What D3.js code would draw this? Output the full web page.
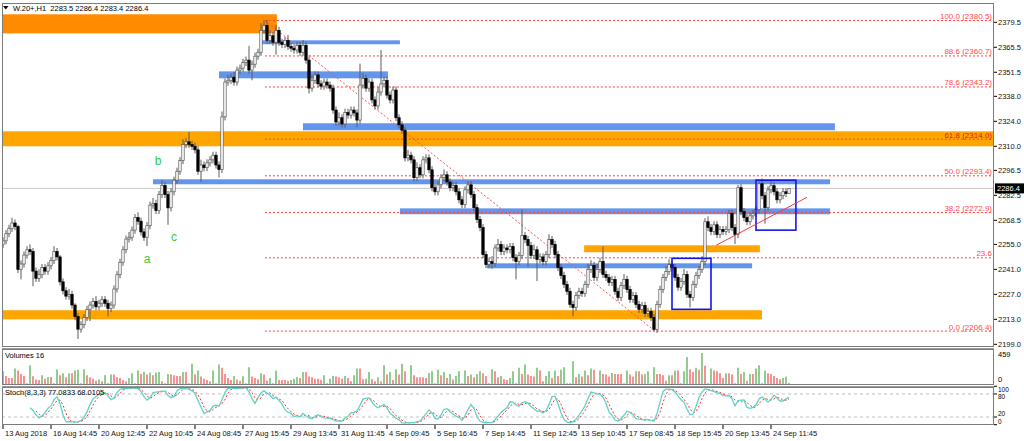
<!DOCTYPE html>
<html><head><meta charset="utf-8">
<script src="https://cdn.jsdelivr.net/npm/d3@7"></script>
<style>body{margin:0;background:#fff;overflow:hidden}svg{display:block}text{font-family:"Liberation Sans",Arial,sans-serif}</style>
</head><body><svg id="c" width="1024" height="441"></svg>
<script>
// ---------- DATA ----------
const firstOpen = 2255;
const closes = [
2257,2261,2264,2267,2265,2241,2244,2249,2252,2251,
2240,2236,2238,2242,2240,2243,2246,2251,2248,2234,
2229,2226,2227,2221,2214.5,2207.5,2210,2214,2218.6,2221,
2223,2220,2222,2224,2222,2219,2221,2230,2238,2245,
2252,2258,2259,2263,2270,2268,2262,2259,2265.5,2277,
2278,2274,2283,2288,2283,2275.5,2284.5,2291,2296,2302,
2311,2312.5,2311,2310,2308,2296,2299.5,2298,2300.7,2302.4,
2305,2299.5,2297,2326.5,2346,2347,2348.7,2346,2352.7,2353.8,
2357,2358.3,2352.7,2356,2360.5,2362.7,2375,2377.8,2369.4,2372,
2368.3,2375,2368.3,2367,2369.4,2366,2365,2364,2366.6,2362.7,
2366.6,2358.3,2342.6,2347,2350,2345,2343.7,2346,2344.3,2342.6,
2330.3,2323.6,2326,2322.5,2329,2327.5,2330.3,2328.7,2324.7,2344.3,
2348,2342.6,2346,2336,2332.6,2340.4,2345,2347,2338.7,2336,
2341.5,2326,2322,2319,2303.5,2305,2302.4,2292.4,2298,2294,
2302.4,2303.5,2296.8,2286.8,2284.5,2288.4,2292.4,2294,2290,2286.8,
2288,2284.5,2280,2277.3,2285.6,2288.4,2283,2275.6,2269,2264.4,
2249.3,2243.7,2245.4,2244.3,2253,2255,2251,2253,2252,2253.8,
2247.6,2245.4,2248.8,2260,2257.7,2254.4,2248.8,2252,2246.5,2248,
2245.4,2249.3,2257.7,2255,2249.3,2242,2237.6,2232.6,2228.7,2221.4,
2219.7,2226.4,2228.7,2227.6,2232.6,2241,2243.2,2236.5,2241,2245.4,
2238.2,2236.5,2233.7,2235.4,2228.7,2225.3,2232,2235.4,2229.8,2224.2,
2226.4,2221.4,2218.6,2220.8,2216.3,2217.5,2214,2207.4,2221.4,2229.8,
2236.5,2239.8,2243.7,2242,2236.5,2231,2234.3,2238.2,2227,2225.3,
2232.6,2237.6,2241,2245.4,2267.7,2264.4,2262.2,2266,2260.5,2263.3,
2262.2,2263.3,2272.3,2264.4,2260.5,2286.8,2273.4,2270,2267.7,2271,
2272.3,2274.5,2289,2282.3,2275.6,2285.6,2287.9,2284.5,2280,2282.3,
2284.5,2283.5,2286.4];
const upWick = [
2,2,2,3,2,1,2,2,2,3, 2,2,3,2,2,2,2,3,2,1, 2,2,3,2,1,2,2,2,2,2, 2,3,2,2,2,2,2,2,2,2,
2,2,3,2,2,3,2,2,2,2, 3,2,2,3,2,2,2,2,2,2, 3,2,5.5,2,2,2,3,2,2,2, 2,2,2,3,2,3,2,3,2,2,
2,2,8,2,2,2,4,2.7,3,3, 2,3,2,2,2,3,2,2,2,2, 3,2,2,3,2,2,2,2,2,2, 2,2,3,2,2,2,2,2,2,12,
3,2,2,2,2,3,19,2,2,2, 2,2,2,2,2,3,2,2,3,2, 2,2,2,2,2,2,2,3,2,2, 2,2,2,2,2,2,2,2,2,2,
2,2,2,3,2,3,2,2,2,2, 2,2,2,14.5,2,2,2,3,2,2, 2,2,3,2,2,2,2,2,2,2, 2,2,2,2,2,3,3,2,3,2,
8.4,2,2,2,2,2,2,3,2,2, 2,2,2,2,2,2,2,2,2,2, 2,3,3,2,2,2,2,3,2,2, 2,2,2,3,2,3,2,2,2,2,
2,2,2,2,2,1.6,2,2,2,2, 2,2,2,3,2,2,3,2,2,2, 2,2,0];
const downWick = [
2,2,2,2,2,2,5.6,2,2,2, 8.5,2,2,2,2,2,2,2,2,2, 2,2,2,2,2,5.5,2,2,2,6.6, 2,2,2,2,2,4.3,2,2,2,2,
2,2,2,2,2,2,2,2,5,2, 2,2,2,2,2,9.5,2,2,2,2, 2,2,2,2,2,2,6,2,2,2, 2,2,4.5,2,2,2,2,2,2,2,
2,2,2,5.7,2,2,2,2,2,2, 2,7,2,2,2,2,2,2,2,2, 2,2,3,2,2,2,2,2,2,2, 2,2,2,2,2,2,2,2,4,2,
2,2,2,2,2,2,2,2,2,2, 2,2,2,2,2,2,2,2,2,2, 2,2,2,2,2,2,2,2,2,2, 2,2,2,2,2,2,2,2,2,2,
2,2,2,3,2,2,2,2,2,2, 2,10,2,2,2,12,2,2,12,2, 2,2,2,2,2,2,2,2,2,2, 5,2,2,2,2,2,2,2,2,2,
2,2,2,2,2,2,2,2,2,2, 2,2,2,2,2,2,2,1,2,2, 2,2,2,2,2,2,2,2,2,5.6, 2,2,2,2,2,2,2,2,2,2,
2,2,2,2,5.3,2,2,2,2,2, 2,2,2,2,9,2,2,2,2,2, 2,2,0.1];
const volumes = [
186,118,88,88,225,196,147,118,12,274,113,64,59,127,78,103,103,12,216,127,
157,98,157,157,196,206,12,216,127,98,78,49,64,39,127,12,137,137,98,88,
59,39,88,157,12,196,147,176,137,167,127,167,176,39,12,147,137,127,118,118,
176,176,12,294,137,196,108,78,59,39,196,12,284,235,147,88,59,118,64,49,
113,12,245,108,88,69,157,137,49,88,12,196,59,59,59,49,59,78,98,88,
176,176,108,98,78,78,59,127,12,78,118,108,98,78,118,88,39,127,225,225,
69,78,176,69,39,98,39,274,137,176,59,
216,137,294,186,12,274,127,98,98,98,88,162,186,12,206,127,176,88,147,64,
118,186,12,196,118,137,98,147,186,157,118,12,216,186,98,118,69,59,88,186,
12,235,147,284,137,118,108,235,196,39,118,186,88,196,118,206,245,12,12,333,
98,147,108,196,127,225,206,12,196,147,137,108,162,147,147,147,12,196,137,108,
186,186,137,147,186,12,245,147,147,127,49,127,127,196,196,12,186,392,216,176,
235,206,451,265,12,225,196,186,157,88,157,157,137,12,235,147,176,49,147,147,
225,274,12,196,157,147,118,88,69,88,108,16];
const xTickBars = [0,16,32,48,64,80,96,112,128,144,160,176,192,208,224,240,256];
const xTickLabels = ["13 Aug 2018","16 Aug 14:45","20 Aug 12:45","22 Aug 10:45","24 Aug 08:45","27 Aug 15:45","29 Aug 13:45","31 Aug 11:45","4 Sep 09:45","5 Sep 16:45","7 Sep 14:45","11 Sep 12:45","13 Sep 10:45","17 Sep 08:45","18 Sep 15:45","20 Sep 13:45","24 Sep 11:45"];
const priceTicks = [2379.5,2365.5,2351.5,2338.0,2324.0,2310.0,2296.5,2282.5,2268.5,2255.0,2241.0,2227.0,2213.0,2199.0];
const fibLow = 2206.4, fibHigh = 2380.5, fibBarLow = 217.3, fibBarHigh = 87.3;
const fibLevels = [100,88.6,78.6,61.8,50,38.2,23.6,0];
const fibShowPrice = [true,true,true,true,true,true,false,true];
const orangeZones = [ // [barFrom, barTo, priceTop, priceBottom, colour]
  [-0.4,91.3,2384.0,2373.3,"#FF8C00"],
  [-0.4,340,2318.4,2310.0,"#FFA500"],
  [-0.4,253,2218.1,2213.0,"#FFA500"],
  [193.7,252.3,2254.5,2250.6,"#FFA500"]];
const blueZones = [
  [86.3,132.3,2369.4,2367.2],
  [72,128.3,2352.0,2348.1],
  [100,277.3,2322.9,2319.0],
  [50,275.7,2291.5,2288.7],
  [132.3,275.7,2275.2,2271.9],
  [161.3,249.7,2244.4,2241.6]];
const boxes = [[223,236,2247.2,2218.6],[251,264.3,2291.0,2263.0]];
const trendLine = [[237.7,2254.5],[268,2281.4]];
const waveLabels = [["a",48,2244.5],["b",51.7,2299.5],["c",57,2257.0]];
const header = "W.20+,H1  2283.5 2286.4 2283.4 2286.4";
const volLabel = "Volumes 16";
const stochLabel = "Stoch(8,3,3) 77.0833 68.0105";
const lastPrice = 2286.4;
const volAxis = [459,0];
const stochAxis = [100,80,20,0];

// ---------- BUILD ----------
const n = closes.length;
const bars = closes.map((c,i)=>{
  const o = i===0 ? firstOpen : closes[i-1];
  return {i,o,c,h:Math.max(o,c)+upWick[i],l:Math.min(o,c)-downWick[i],v:volumes[i]};
});
const svg = d3.select('#c');
const PL=2, PR=994, MT=3, MB=347, VT=349, VB=385, ST=387, SB=425;
const x = d3.scaleLinear().domain([0,262]).range([3,789]);
const y = d3.scaleLinear().domain([2199,2379.5]).range([344.3,22.3]);
const yv = d3.scaleLinear().domain([0,459]).range([384,352.5]);
const ys = d3.scaleLinear().domain([0,100]).range([424.7,386.3]);
const F = "Liberation Sans, Arial, sans-serif";

const defs = svg.append('defs');
defs.append('clipPath').attr('id','cm').append('rect').attr('x',PL).attr('y',MT).attr('width',PR-PL).attr('height',MB-MT);
defs.append('clipPath').attr('id','cs').append('rect').attr('x',PL).attr('y',ST).attr('width',PR-PL).attr('height',SB-ST);
const main = svg.append('g').attr('clip-path','url(#cm)');

main.selectAll('rect.oz').data(orangeZones).join('rect')
  .attr('x',d=>x(d[0])).attr('width',d=>x(d[1])-x(d[0]))
  .attr('y',d=>y(d[2])).attr('height',d=>y(d[3])-y(d[2])).attr('fill',d=>d[4]);
main.selectAll('rect.bz').data(blueZones).join('rect')
  .attr('x',d=>x(d[0])).attr('width',d=>x(d[1])-x(d[0]))
  .attr('y',d=>y(d[2])).attr('height',d=>y(d[3])-y(d[2])).attr('fill','#6495ED');

main.append('line').attr('x1',PL).attr('x2',PR).attr('y1',y(lastPrice)).attr('y2',y(lastPrice))
  .attr('stroke','#c8c8c8').attr('stroke-width',1);

const fibPrice = l => fibLow + l/100*(fibHigh-fibLow);
main.append('line').attr('x1',x(fibBarHigh)).attr('y1',y(fibHigh)).attr('x2',x(fibBarLow)).attr('y2',y(fibLow))
  .attr('stroke','#ff5050').attr('stroke-dasharray','2,2').attr('stroke-width',1);
main.selectAll('line.fib').data(fibLevels).join('line')
  .attr('x1',x(fibBarHigh)).attr('x2',PR).attr('y1',d=>y(fibPrice(d))).attr('y2',d=>y(fibPrice(d)))
  .attr('stroke','#ff4040').attr('stroke-dasharray','2,2').attr('stroke-width',1);
main.selectAll('text.fib').data(fibLevels).join('text')
  .attr('x',992).attr('y',d=>y(fibPrice(d))-1.5).attr('text-anchor','end')
  .attr('font-size','8px').attr('font-family',F).attr('fill',(d,i)=>d===61.8?'#e01818':'#ff4a4a')
  .text((d,i)=>fibShowPrice[i] ? d.toFixed(1)+' ('+fibPrice(d).toFixed(1)+')' : d.toFixed(1));

const cg = main.append('g');
cg.selectAll('line').data(bars).join('line')
  .attr('x1',d=>x(d.i)).attr('x2',d=>x(d.i)).attr('y1',d=>y(d.h)).attr('y2',d=>y(d.l))
  .attr('stroke','#5a5a5a').attr('stroke-width',1);
cg.selectAll('rect').data(bars).join('rect')
  .attr('x',d=>x(d.i)-1.2).attr('width',2.4)
  .attr('y',d=>y(Math.max(d.o,d.c)))
  .attr('height',d=>Math.max(0.8,Math.abs(y(d.o)-y(d.c))))
  .attr('fill',d=>d.c>=d.o?'#fff':'#000')
  .attr('stroke',d=>d.c>=d.o?'#555':'#000').attr('stroke-width',0.7);

main.selectAll('rect.box').data(boxes).join('rect')
  .attr('x',d=>x(d[0])).attr('width',d=>x(d[1])-x(d[0]))
  .attr('y',d=>y(d[2])).attr('height',d=>y(d[3])-y(d[2]))
  .attr('fill','none').attr('stroke','#1414f0').attr('stroke-width',1.6);
main.append('line').attr('x1',x(trendLine[0][0])).attr('y1',y(trendLine[0][1]))
  .attr('x2',x(trendLine[1][0])).attr('y2',y(trendLine[1][1])).attr('stroke','#ff3a3a').attr('stroke-width',1);

main.selectAll('text.w').data(waveLabels).join('text')
  .attr('x',d=>x(d[1])).attr('y',d=>y(d[2])).attr('text-anchor','middle')
  .attr('font-size','12px').attr('font-family',F).attr('fill','#33cc33').text(d=>d[0]);

svg.append('path').attr('d','M3,6 L8.5,6 L5.75,9.5 Z').attr('fill','#000');
svg.append('text').attr('x',13).attr('y',11).attr('font-size','7.5px').attr('font-family',F)
  .attr('fill','#000').style('white-space','pre').text(header);

svg.selectAll('line.vol').data(bars).join('line')
  .attr('x1',d=>x(d.i)).attr('x2',d=>x(d.i)).attr('y1',yv(0)).attr('y2',d=>yv(d.v))
  .attr('stroke',(d,i)=> i>0 && d.v>bars[i-1].v ? '#4aa84a' : '#f24848').attr('stroke-width',1.2);
svg.append('text').attr('x',5).attr('y',358).attr('font-size','7.5px').attr('font-family',F).text(volLabel);

// stochastic (8,3,3)
const K=8, slow=3;
const kv = new Array(n).fill(null), dv = new Array(n).fill(null);
const hh = [], ll = [];
for (let i=0;i<n;i++){
  const s = Math.max(0,i-K+1);
  hh[i] = d3.max(bars.slice(s,i+1),b=>b.h);
  ll[i] = d3.min(bars.slice(s,i+1),b=>b.l);
}
for (let i=K-1+slow-1;i<n;i++){
  let num=0,den=0;
  for(let j=i-slow+1;j<=i;j++){num+=closes[j]-ll[j];den+=hh[j]-ll[j];}
  kv[i] = den===0?100:100*num/den;
}
for (let i=0;i<n;i++){
  if(i>=2 && kv[i]!==null && kv[i-1]!==null && kv[i-2]!==null) dv[i]=(kv[i]+kv[i-1]+kv[i-2])/3;
}
const sg = svg.append('g').attr('clip-path','url(#cs)');
[20,80].forEach(l=>sg.append('line').attr('x1',PL).attr('x2',PR).attr('y1',ys(l)).attr('y2',ys(l))
  .attr('stroke','#c0c0c0').attr('stroke-dasharray','3,3'));
const kl = d3.line().defined(d=>d!==null).x((d,i)=>x(i)).y(d=>ys(d));
sg.append('path').attr('d',kl(dv)).attr('fill','none').attr('stroke','#ff3030').attr('stroke-width',1).attr('stroke-dasharray','2,2');
sg.append('path').attr('d',kl(kv)).attr('fill','none').attr('stroke','#5fd3c8').attr('stroke-width',1.3);
svg.append('text').attr('x',5).attr('y',395).attr('font-size','7.5px').attr('font-family',F).text(stochLabel);

[[MT,MB],[VT,VB],[ST,SB]].forEach(([t,b])=>{
  svg.append('rect').attr('x',PL+0.5).attr('y',t+0.5).attr('width',PR-PL-1).attr('height',b-t-1)
    .attr('fill','none').attr('stroke','#7c7c7c').attr('stroke-width',1);
});
svg.append('line').attr('x1',PL).attr('x2',PR).attr('y1',MB+1.5).attr('y2',MB+1.5).attr('stroke','#9a9a9a');
svg.append('line').attr('x1',PL).attr('x2',PR).attr('y1',VB+1.5).attr('y2',VB+1.5).attr('stroke','#9a9a9a');

const pa = svg.append('g');
pa.selectAll('line').data(priceTicks).join('line').attr('x1',PR).attr('x2',PR+3)
  .attr('y1',d=>y(d)).attr('y2',d=>y(d)).attr('stroke','#000');
pa.selectAll('text').data(priceTicks).join('text').attr('x',PR+4).attr('y',d=>y(d)).attr('dy','0.35em')
  .attr('font-size','7.5px').attr('font-family',F).attr('fill','#111').text(d=>d.toFixed(1));
svg.append('rect').attr('x',PR+1).attr('y',y(lastPrice)-5).attr('width',29).attr('height',10).attr('fill','#000');
svg.append('text').attr('x',PR+3).attr('y',y(lastPrice)).attr('dy','0.35em').attr('font-size','7.5px')
  .attr('font-family',F).attr('fill','#fff').text(lastPrice.toFixed(1));

// volume & stoch axis labels
const volPos = [yv(volAxis[0])+2, yv(volAxis[1])-5];
volAxis.forEach((v,k)=>{
  svg.append('text').attr('x',PR+4).attr('y',volPos[k]).attr('dy','0.35em').attr('font-size','7.5px').attr('font-family',F).text(v);
});
const stochPos = [390,397,414,421.5];
stochAxis.forEach((v,k)=>{
  svg.append('text').attr('x',PR+4).attr('y',stochPos[k]).attr('dy','0.35em').attr('font-size','6.5px').attr('font-family',F).text(v);
  svg.append('line').attr('x1',PR).attr('x2',PR+3).attr('y1',ys(v)).attr('y2',ys(v)).attr('stroke','#000');
});

const ta = svg.append('g');
ta.selectAll('line').data(xTickBars).join('line').attr('x1',d=>x(d)).attr('x2',d=>x(d))
  .attr('y1',SB).attr('y2',SB+4).attr('stroke','#000');
ta.selectAll('text').data(xTickBars).join('text').attr('x',d=>x(d)+2).attr('y',435.5)
  .attr('font-size','7.5px').attr('font-family',F).attr('fill','#111').text((d,i)=>xTickLabels[i]);
</script></body></html>
